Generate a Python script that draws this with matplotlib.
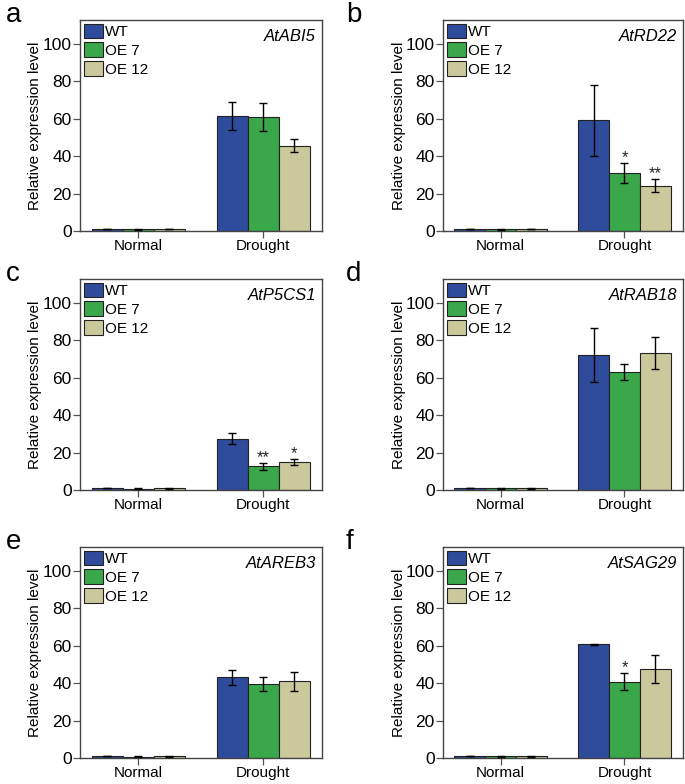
import matplotlib
matplotlib.use("Agg")
import matplotlib.pyplot as plt
import numpy as np

plt.rcParams['font.family'] = ['Liberation Sans', 'DejaVu Sans']

conditions = ["Normal", "Drought"]
lines = ["WT", "OE 7", "OE 12"]
colors = ["#2F4B9C", "#3AA84A", "#CBC99B"]

genes = ["AtABI5", "AtRD22", "AtP5CS1", "AtRAB18", "AtAREB3", "AtSAG29"]
panel_letters = ["a", "b", "c", "d", "e", "f"]

# values[gene] = [[WT normal, WT drought], [OE7 ...], [OE12 ...]]
abi5_mean = [[1.0, 61.6], [0.9, 61.0], [1.0, 45.7]]
abi5_err = [[0.1, 7.4], [0.1, 7.3], [0.1, 3.6]]
rd22_mean = [[1.0, 59.1], [0.9, 31.2], [1.1, 24.3]]
rd22_err = [[0.1, 19.0], [0.1, 5.4], [0.2, 3.7]]
p5cs1_mean = [[1.0, 27.5], [0.8, 12.6], [0.9, 15.1]]
p5cs1_err = [[0.1, 3.0], [0.1, 2.0], [0.1, 1.6]]
rab18_mean = [[1.0, 72.1], [1.0, 63.1], [1.0, 73.2]]
rab18_err = [[0.1, 14.4], [0.2, 4.4], [0.2, 8.4]]
areb3_mean = [[1.0, 43.2], [0.8, 39.6], [0.9, 40.9]]
areb3_err = [[0.1, 4.0], [0.1, 3.8], [0.2, 5.3]]
sag29_mean = [[1.0, 60.7], [0.9, 40.7], [1.0, 47.4]]
sag29_err = [[0.1, 0.5], [0.1, 4.6], [0.2, 7.5]]

means = [abi5_mean, rd22_mean, p5cs1_mean, rab18_mean, areb3_mean, sag29_mean]
errs = [abi5_err, rd22_err, p5cs1_err, rab18_err, areb3_err, sag29_err]

# significance marks: (gene index, line index) -> text (drought condition)
stars = {(1, 1): "*", (1, 2): "**", (2, 1): "**", (2, 2): "*", (5, 1): "*"}

yticks = [0, 20, 40, 60, 80, 100]

fig = plt.figure(figsize=(6.85, 7.84), dpi=100)
W, H = 685.0, 784.0
col_left = [80, 443]
col_width = [242, 240]
row_top = [20, 279, 547]
ax_h = 211

bw = 0.248
x = np.arange(len(conditions))
for gi in range(6):
    r, c = gi // 2, gi % 2
    left = col_left[c] / W
    bottom = 1 - (row_top[r] + ax_h) / H
    ax = fig.add_axes([left, bottom, col_width[c] / W, ax_h / H])
    handles = []
    for li in range(3):
        xs = x + (li - 1) * bw
        b = ax.bar(xs, means[gi][li], bw, color=colors[li], edgecolor="#222222",
                   linewidth=0.8, label=lines[li], zorder=2)
        ax.errorbar(xs, means[gi][li], yerr=errs[gi][li], fmt="none",
                    ecolor="black", elinewidth=1.0, capsize=3.2, capthick=1.0, zorder=3)
        handles.append(b)
        if (gi, li) in stars:
            top = means[gi][li][1] + errs[gi][li][1]
            ax.text(xs[1], top - 1.2, stars[(gi, li)], ha="center", va="bottom",
                    fontsize=12, color="#222222")
    ax.set_xlim(-0.464, 1.472)
    ax.set_ylim(0, 112.8)
    ax.set_yticks(yticks)
    ax.set_yticklabels([str(t) for t in yticks], fontsize=12.5)
    ax.set_xticks(x)
    ax.set_xticklabels(conditions, fontsize=11)
    ax.tick_params(axis="both", direction="out", length=5, width=0.9, color="#555555", pad=1)
    for s in ax.spines.values():
        s.set_color("#444444")
        s.set_linewidth(1.0)
    ax.set_ylabel("Relative expression level", fontsize=11)
    ax.yaxis.set_label_coords(-0.155, 0.5)
    ax.text(0.975, 0.955, genes[gi], transform=ax.transAxes, ha="right", va="top",
            fontsize=12, style="italic")
    ax.legend(handles=handles, loc="upper left", frameon=False, fontsize=11,
              handlelength=1.25, handleheight=1.1, handletextpad=0.15,
              labelspacing=0.2, borderpad=0.15, borderaxespad=0.1)
    # panel letter
    lx = 6 if c == 0 else 346
    ly = row_top[r] - 5
    fig.text(lx / W, 1 - ly / H, panel_letters[gi], fontsize=20, ha="left", va="center")

fig.savefig("out.png", dpi=100)
